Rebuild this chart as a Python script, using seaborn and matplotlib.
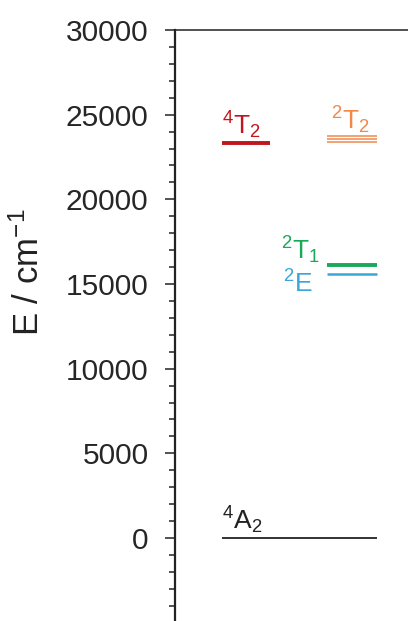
import numpy as np
import pandas as pd
import matplotlib
matplotlib.use('Agg')
import matplotlib.pyplot as plt
import seaborn as sns
from matplotlib.ticker import MultipleLocator, FixedLocator

# energy levels (cm-1)
states = ['4A2', '4T2', '2T2a', '2T2b', '2T2c', '2T1', '2E']
energies = [0, 23330, 23360, 23540, 23720, 16100, 15580]
yticks = [0, 5000, 10000, 15000, 20000, 25000, 30000]

sns.set_theme(style='ticks')
plt.rcParams['font.family'] = ['Liberation Sans', 'DejaVu Sans']
plt.rcParams['mathtext.fontset'] = 'custom'
plt.rcParams['mathtext.rm'] = 'Liberation Sans'
plt.rcParams['mathtext.it'] = 'Liberation Sans'

# horizontal extent of each level (x in figure pixels)
x_span = {'4A2': (222, 377), '4T2': (222, 270),
          '2T2a': (327, 377), '2T2b': (327, 377), '2T2c': (327, 377),
          '2T1': (327, 377), '2E': (327, 377)}
colors = {'4A2': '#333333', '4T2': '#c0161e', '2T2a': '#f0884a', '2T2b': '#f0884a',
          '2T2c': '#f0884a', '2T1': '#1aa85a', '2E': '#3aa6d6'}
widths = {'4A2': 1.4, '4T2': 2.8, '2T2a': 1.1, '2T2b': 1.1, '2T2c': 1.1,
          '2T1': 2.8, '2E': 1.8}

rows = []
for s, e in zip(states, energies):
    for x in x_span[s]:
        rows.append({'state': s, 'x': x, 'E': e})
df = pd.DataFrame(rows)

W, H = 408, 621
fig = plt.figure(figsize=(W / 100, H / 100), dpi=100)
left, top = 175 / W, 1 - 30 / H
h = (622.7 - 30) / H
w = 1.05 - left
ax = fig.add_axes([left, top - h, w, h])

sns.lineplot(data=df, x='x', y='E', hue='state', units='state', estimator=None,
             palette=colors, legend=False, ax=ax)
for line, s in zip(ax.get_lines(), states):
    line.set_linewidth(widths[s])
    line.set_solid_capstyle('butt')

ax.set_xlim(175, 175 + w * W)
ax.set_ylim(-5000, 30000)
ax.yaxis.set_major_locator(FixedLocator(yticks))
ax.yaxis.set_minor_locator(MultipleLocator(1000))
ax.tick_params(axis='y', which='major', length=7, width=1.1, labelsize=21.5, pad=12, color='#222222')
ax.tick_params(axis='y', which='minor', length=4.5, width=1.1, color='#222222')
ax.set_xticks([])
ax.set_xlabel('')
ax.set_ylabel('')
fig.text(29 / W, 1 - 272 / H, 'E / cm$^{-1}$', fontsize=25, rotation=90,
         ha='center', va='center', color='#222222')
ax.spines['left'].set_linewidth(1.6)
ax.spines['top'].set_linewidth(1.1)
ax.spines['bottom'].set_visible(False)
ax.spines['right'].set_visible(False)
for sp in ax.spines.values():
    sp.set_color('#222222')

fs = 19
ax.text(222, 23450, r'$^4$T$_2$', color=colors['4T2'], fontsize=fs, ha='left', va='bottom')
ax.text(331, 23750, r'$^2$T$_2$', color=colors['2T2a'], fontsize=fs, ha='left', va='bottom')
ax.text(320, 16050, r'$^2$T$_1$', color=colors['2T1'], fontsize=fs, ha='right', va='bottom')
ax.text(313, 14200, r'$^2$E', color=colors['2E'], fontsize=fs, ha='right', va='bottom')
ax.text(222, 120, r'$^4$A$_2$', color='#222222', fontsize=fs, ha='left', va='bottom')

fig.savefig('out.png', dpi=100)
